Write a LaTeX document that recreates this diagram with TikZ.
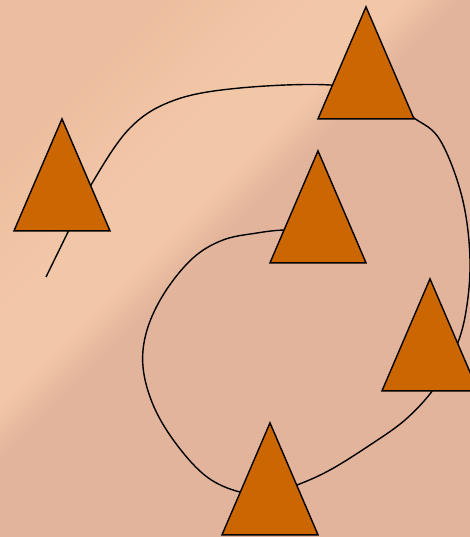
\documentclass[tikz,border=0pt]{standalone}
\usetikzlibrary{shapes.geometric}
\definecolor{bgDark}{HTML}{E2B49B}
\definecolor{bgLight}{HTML}{F2C7A7}
\definecolor{bgTop}{HTML}{ECBE9F}
\definecolor{triFill}{HTML}{CC6600}
\pgfdeclarelayer{back}
\pgfdeclarelayer{mid}
\pgfsetlayers{back,mid,main}
\pgfdeclareverticalshading{peach}{100bp}{color(0bp)=(bgDark); color(53bp)=(bgDark); color(57bp)=(bgLight); color(63bp)=(bgLight); color(74bp)=(bgTop); color(100bp)=(bgTop)}

\begin{document}
\begin{tikzpicture}[
    x=1pt, y=1pt,
    tri/.style={isosceles triangle, isosceles triangle stretches, shape border rotate=90, minimum width=96pt, minimum height=112pt, inner sep=0pt, anchor=apex, draw=black, line width=1.4pt, fill=triFill},
    spiral/.style={draw=black, line width=1.4pt}
]
    \useasboundingbox (0,0) rectangle (470,537);
    \begin{pgfonlayer}{back}
        \shade[shading=peach, shading angle=45] (0,0) rectangle (470,537);
    \end{pgfonlayer}

    \node[tri] (left) at (62,420) {};
    \node[tri] (top) at (366,532) {};
    \node[tri] (inner) at (318,388) {};
    \node[tri] (right) at (430,260) {};
    \node[tri] (bottom) at (270,116) {};

    \coordinate (tail) at (46,260);

    % the spiral runs behind the triangles
    \begin{pgfonlayer}{mid}
        \draw[spiral] plot[smooth, tension=0.6] coordinates {
            (tail) (68,305) (91,352) (130,409) (175,437) (240,449) (330,452)
            (380,440) (414,419) (440,397) (462,340) (470,277) (465,220)
            (452,180) (433,147) (405,117) (370,92) (330,67) (297,52)
            (270,44) (240,45) (207,60) (177,92) (154,130) (143,170)
            (147,207) (165,245) (193,279) (223,297) (257,304) (285,307)
            (inner.center)};
    \end{pgfonlayer}
\end{tikzpicture}
\end{document}
